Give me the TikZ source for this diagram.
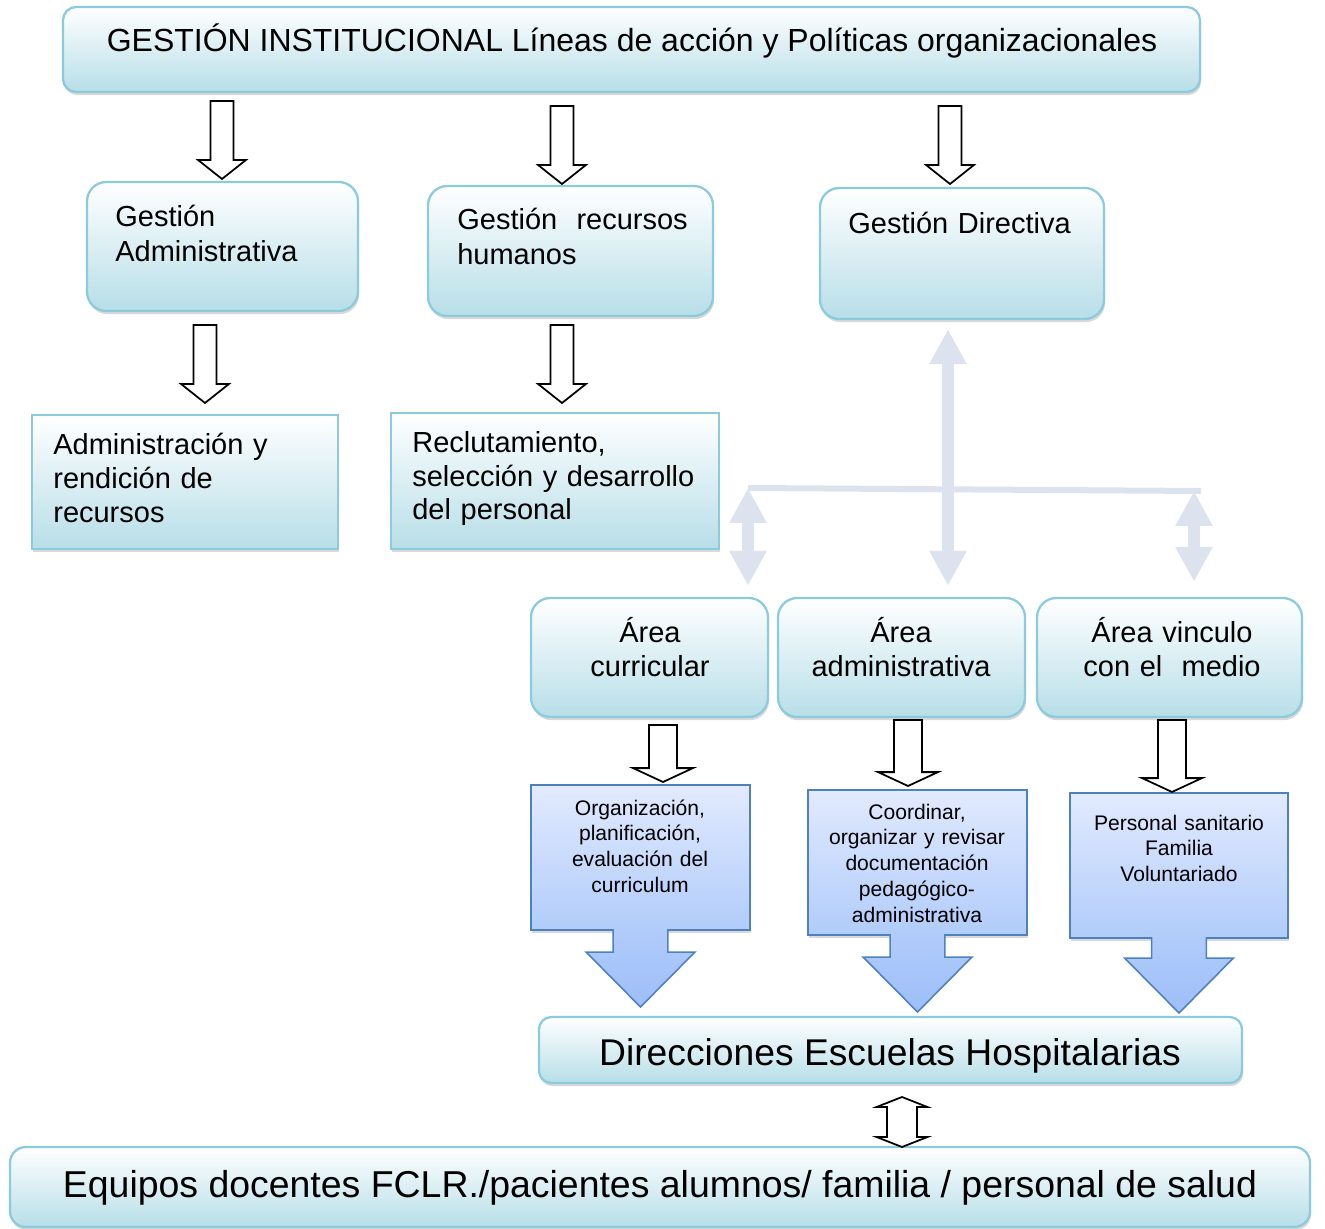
\documentclass[tikz,border=0pt]{standalone}
\usepackage{fontspec}
\setmainfont{Liberation Sans}
\usetikzlibrary{arrows.meta,calc,fit,shadows}
\definecolor{tealc}{HTML}{8CCBDB}
\definecolor{tealsoft}{HTML}{B7DEE8}
\definecolor{bluetop}{HTML}{E2EAFE}
\definecolor{bluemid}{HTML}{B1CCFA}
\definecolor{bluetip}{HTML}{9EBEF9}
\definecolor{bluec}{HTML}{4F81BD}
\definecolor{linksoft}{HTML}{DCE3EF}
\tikzset{
  shadebox/.style={drop shadow={shadow xshift=0.6pt, shadow yshift=-1.8pt, opacity=0.3}},
  tealbox/.style={draw=tealc, line width=1.3pt, top color=white, bottom color=tealsoft, inner sep=0pt, shadebox},
  roundbox/.style={tealbox, rounded corners=#1},
  roundbox/.default=11pt,
  bluebox/.style={draw=bluec, line width=0.9pt, top color=bluetop, bottom color=bluemid, inner sep=0pt, shadebox},
  txt/.style={inner sep=0pt, text=black},
  lefttxt/.style={txt, font=\fontsize{16.5}{19.8}\selectfont, text width=6cm, align=left, anchor=base west},
  ctrtxt/.style={txt, font=\fontsize{16.5}{19.6}\selectfont, text width=5cm, align=center, anchor=base},
  smalltxt/.style={txt, font=\fontsize{12}{14.7}\selectfont, text width=4cm, align=center, anchor=base},
  bigtxt/.style={txt, font=\fontsize{21.3}{25}\selectfont, anchor=base},
  hollow/.style n args={3}{draw=black, fill=white, line width=1pt, line join=miter,
    to path={let \p1=(\tikztostart), \p2=(\tikztotarget) in
      (\x1-#1,\y1) -- (\x1+#1,\y1) -- (\x1+#1,\y2+#3) -- (\x1+#2,\y2+#3) -- (\x1,\y2)
      -- (\x1-#2,\y2+#3) -- (\x1-#1,\y2+#3) -- cycle}},
  hollowtop/.style={hollow={6.5pt}{13.6pt}{10.8pt}},
  hollowlow/.style={hollow={8pt}{17pt}{7.9pt}},
  hollowdbl/.style={draw=black, fill=white, line width=1pt, line join=miter,
    to path={let \p1=(\tikztostart), \p2=(\tikztotarget) in
      (\x1,\y1) -- (\x1+14.5pt,\y1-5.7pt) -- (\x1+8.5pt,\y1-5.7pt) -- (\x1+8.5pt,\y2+5.7pt)
      -- (\x1+14.5pt,\y2+5.7pt) -- (\x1,\y2) -- (\x1-14.5pt,\y2+5.7pt) -- (\x1-8.5pt,\y2+5.7pt)
      -- (\x1-8.5pt,\y1-5.7pt) -- (\x1-14.5pt,\y1-5.7pt) -- cycle}},
  callout/.style={draw=bluec, line width=0.9pt, top color=bluemid, bottom color=bluetip, line join=miter,
    to path={let \p1=(\tikztostart), \p2=(\tikztotarget) in
      (\x1-15.6pt,\y1+1pt) -- (\x1-15.6pt,\y2+31.2pt) -- (\x1-30.9pt,\y2+31.2pt) -- (\x1,\y2)
      -- (\x1+30.9pt,\y2+31.2pt) -- (\x1+15.6pt,\y2+31.2pt) -- (\x1+15.6pt,\y1+1pt)}},
  softline/.style={draw=linksoft, line width=0.12cm},
  softlink/.style={draw=linksoft, line width=0.23cm, >={Triangle[width=0.7cm,length=0.7cm]}, <->},
}
\begin{document}
\begin{tikzpicture}[x=0.02cm, y=-0.02cm]
  \useasboundingbox (0,0) rectangle (1325,1229);
  \node[roundbox=7.5pt, fit={(63,7) (1200,92)}] (top) {};
  \node[roundbox, fit={(87,182) (358,311)}] (gadm) {};
  \node[roundbox, fit={(428,186) (713,316)}] (grh) {};
  \node[roundbox, fit={(820,188) (1104,319)}] (gdir) {};
  \node[tealbox, fit={(32,415) (338,549)}] (adm) {};
  \node[tealbox, fit={(391,413) (719,549)}] (recl) {};
  \node[roundbox, fit={(531,598) (768,717)}] (acur) {};
  \node[roundbox, fit={(778,598) (1025,717)}] (aadm) {};
  \node[roundbox, fit={(1037,598) (1302,717)}] (avin) {};
  \node[bluebox, fit={(531,785) (750,930)}] (org) {};
  \node[bluebox, fit={(808,790) (1027,935)}] (coord) {};
  \node[bluebox, fit={(1070,793) (1288,938)}] (pers) {};
  \node[roundbox=7pt, fit={(539,1017) (1242,1083)}] (dir) {};
  \node[roundbox=9pt, fit={(10,1147) (1310,1227)}] (equip) {};

  \node[txt, font=\fontsize{18.2}{21}\selectfont, anchor=base] (top-t) at (632,52) {GESTIÓN INSTITUCIONAL Líneas de acción y Políticas organizacionales};
  \node[lefttxt] (gadm-t) at (115,227) {Gestión\\Administrativa};
  \node[lefttxt] (grh-t) at (457,230) {Gestión\ \ recursos\\humanos};
  \node[lefttxt] (gdir-t) at (848,234) {Gestión Directiva};
  \node[lefttxt, font=\fontsize{16.5}{19.3}\selectfont] (adm-t) at (53,455) {Administración y\\rendición de\\recursos};
  \node[lefttxt, font=\fontsize{16.5}{19}\selectfont] (recl-t) at (412,453) {Reclutamiento,\\selección y desarrollo\\del personal};
  \node[ctrtxt] (acur-t) at (650,642) {Área\\curricular};
  \node[ctrtxt] (aadm-t) at (901,642) {Área\\administrativa};
  \node[ctrtxt] (avin-t) at (1172,642) {Área vinculo\\con el\ \ medio};
  \node[smalltxt] (org-t) at (640,815) {Organización,\\planificación,\\evaluación del\\curriculum};
  \node[smalltxt] (coord-t) at (917,819) {Coordinar,\\organizar y revisar\\documentación\\pedagógico-\\administrativa};
  \node[smalltxt] (pers-t) at (1179,830) {Personal sanitario\\Familia\\Voluntariado};
  \node[bigtxt, font=\fontsize{21.2}{25}\selectfont] (dir-t) at (890,1065) {Direcciones Escuelas Hospitalarias};
  \node[bigtxt] (equip-t) at (660,1197) {Equipos docentes FCLR./pacientes alumnos/ familia / personal de salud};

  \foreach \k/\xa/\ya/\yb in {1/222/101/179, 2/562/106/184, 3/950/106/184, 4/205/325/403, 5/562/325/403} {
    \coordinate (ha\k) at (\xa,\ya);
    \coordinate (hb\k) at (\xa,\yb);
    \draw[hollowtop] (ha\k) to (hb\k);
  }
  \foreach \k/\xa/\ya/\yb in {6/663/725/782, 7/908/720/786, 8/1172/720/792} {
    \coordinate (ha\k) at (\xa,\ya);
    \coordinate (hb\k) at (\xa,\yb);
    \draw[hollowlow] (ha\k) to (hb\k);
  }

  \coordinate (orgtip) at (640,1007);
  \coordinate (coordtip) at (917,1012);
  \coordinate (perstip) at (1179,1013);
  \draw[callout] (org.south) to (orgtip);
  \draw[callout] (coord.south) to (coordtip);
  \draw[callout] (pers.south) to (perstip);

  \coordinate (dbtop) at (902,1097);
  \coordinate (dbbot) at (902,1147);
  \draw[hollowdbl] (dbtop) to (dbbot);

  \coordinate (hub) at (948,489);
  \coordinate (hl) at (748,488);
  \coordinate (hr) at (1201,491);
  \coordinate (jr) at (1194,491);
  \draw[softline] (hl) -- (hr);
  \draw[softlink, shorten <=0.18cm, shorten >=0.22cm] (hub |- gdir.south) -- (hub |- aadm.north);
  \draw[softlink, shorten >=0.22cm] (hl) -- (hl |- acur.north);
  \draw[softlink, shorten >=0.3cm] (jr) -- (jr |- avin.north);
\end{tikzpicture}
\end{document}
